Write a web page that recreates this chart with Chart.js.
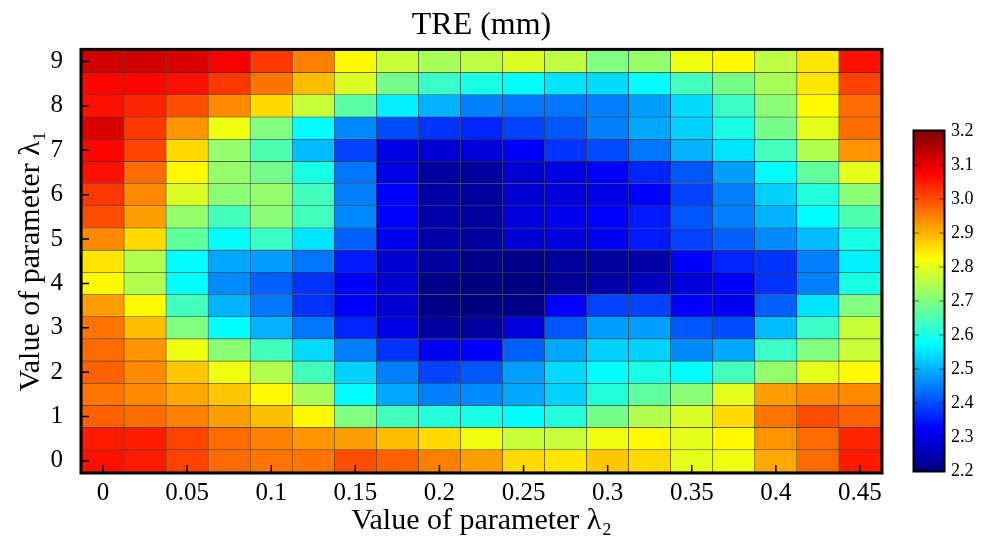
<!DOCTYPE html>
<html>
<head>
<meta charset="utf-8">
<script src="https://cdn.jsdelivr.net/npm/chart.js@4.4.1/dist/chart.umd.min.js"></script>
<style>
  body { margin: 0; background: #fff; }
  #wrap { position: relative; width: 987px; height: 543px; }
  canvas { position: absolute; top: 0; }
</style>
</head>
<body>
<div id="wrap">
  <canvas id="heat" width="987" height="543" style="left:0"></canvas>
  <canvas id="cbar" width="87" height="543" style="left:900px"></canvas>
</div>
<script>
// lambda2 along x, lambda1 along y (rows listed top to bottom)
const lambda2 = [0, 0.025, 0.05, 0.075, 0.1, 0.125, 0.15, 0.175, 0.2, 0.225,
                 0.25, 0.275, 0.3, 0.325, 0.35, 0.375, 0.4, 0.425, 0.45];
const lambda1 = [9, 8.5, 8, 7.5, 7, 6.5, 6, 5.5, 5, 4.5, 4, 3.5, 3, 2.5, 2, 1.5, 1, 0.5, 0];

// TRE (mm), one row per lambda1 value
const tre = [
  [3.12,3.12,3.11,3.08,3.02,2.95,2.83,2.77,2.74,2.76,2.79,2.76,2.70,2.72,2.81,2.83,2.76,2.85,3.06],
  [3.07,3.07,3.06,3.02,2.96,2.89,2.79,2.69,2.63,2.60,2.575,2.55,2.54,2.575,2.64,2.69,2.74,2.85,3.01],
  [3.06,3.04,3.00,2.94,2.86,2.77,2.66,2.56,2.50,2.45,2.44,2.44,2.45,2.48,2.54,2.63,2.71,2.83,2.97],
  [3.11,3.02,2.93,2.81,2.70,2.575,2.46,2.40,2.375,2.36,2.39,2.41,2.45,2.49,2.53,2.60,2.69,2.80,2.97],
  [3.07,3.01,2.86,2.72,2.65,2.51,2.39,2.30,2.28,2.29,2.325,2.375,2.40,2.44,2.50,2.55,2.64,2.75,2.93],
  [3.06,2.97,2.83,2.72,2.69,2.60,2.44,2.30,2.23,2.23,2.28,2.30,2.325,2.36,2.41,2.48,2.575,2.67,2.80],
  [3.02,2.94,2.79,2.71,2.72,2.64,2.45,2.325,2.24,2.23,2.28,2.29,2.30,2.325,2.39,2.45,2.53,2.61,2.71],
  [3.00,2.92,2.72,2.64,2.71,2.64,2.46,2.325,2.24,2.23,2.29,2.31,2.325,2.35,2.41,2.45,2.50,2.575,2.65],
  [2.94,2.86,2.67,2.575,2.63,2.55,2.42,2.31,2.24,2.23,2.28,2.29,2.31,2.35,2.39,2.42,2.46,2.51,2.60],
  [2.85,2.75,2.575,2.49,2.48,2.44,2.35,2.28,2.23,2.21,2.21,2.23,2.23,2.24,2.325,2.36,2.375,2.45,2.56],
  [2.83,2.75,2.575,2.46,2.42,2.375,2.325,2.28,2.21,2.20,2.20,2.22,2.24,2.26,2.29,2.325,2.375,2.45,2.60],
  [2.92,2.83,2.64,2.50,2.44,2.375,2.325,2.28,2.21,2.20,2.21,2.325,2.39,2.39,2.325,2.31,2.42,2.55,2.70],
  [2.96,2.89,2.70,2.575,2.50,2.44,2.36,2.30,2.23,2.23,2.29,2.41,2.48,2.48,2.41,2.40,2.51,2.63,2.77],
  [2.97,2.93,2.81,2.71,2.64,2.54,2.45,2.375,2.31,2.325,2.42,2.49,2.53,2.53,2.46,2.49,2.63,2.70,2.77],
  [2.98,2.94,2.88,2.81,2.75,2.64,2.53,2.45,2.39,2.41,2.48,2.54,2.575,2.60,2.575,2.64,2.72,2.80,2.83],
  [2.96,2.94,2.91,2.88,2.83,2.74,2.575,2.49,2.45,2.46,2.49,2.53,2.61,2.67,2.71,2.80,2.92,2.94,2.94],
  [2.98,2.97,2.95,2.92,2.89,2.83,2.70,2.64,2.61,2.60,2.575,2.61,2.69,2.75,2.79,2.86,2.96,3.00,2.98],
  [3.05,3.05,3.01,2.97,2.95,2.93,2.92,2.89,2.86,2.81,2.77,2.77,2.81,2.83,2.80,2.83,2.93,2.97,3.04],
  [3.06,3.05,3.01,2.97,2.96,2.96,3.00,2.98,2.95,2.92,2.86,2.85,2.88,2.86,2.80,2.81,2.91,2.97,3.05]
];

const xTicks = [0, 0.05, 0.1, 0.15, 0.2, 0.25, 0.3, 0.35, 0.4, 0.45];
const yTicks = [0, 1, 2, 3, 4, 5, 6, 7, 8, 9];
const cbTicks = [2.2, 2.3, 2.4, 2.5, 2.6, 2.7, 2.8, 2.9, 3.0, 3.1, 3.2];
const cMin = 2.2, cMax = 3.2;

Chart.defaults.color = '#000';
Chart.defaults.font.family = "'Liberation Serif', 'Times New Roman', serif";

// matlab style jet colormap
function jetFrac(f) {
  f = Math.min(1, Math.max(0, f));
  const c = k => Math.round(255 * Math.min(1, Math.max(0, 1.5 - Math.abs(4 * f - k))));
  return `rgb(${c(3)}, ${c(2)}, ${c(1)})`;
}
const jet = v => jetFrac((v - cMin) / (cMax - cMin));

// black box round the plot area + inward tick marks
const frame = {
  id: 'frame',
  afterDatasetsDraw(chart, args, opts) {
    const {ctx, chartArea: a} = chart;
    ctx.save();
    ctx.strokeStyle = opts.tickColor;
    ctx.lineWidth = 1.5;
    ctx.beginPath();
    Object.values(chart.scales).forEach(s => {
      if (!s.options.display) return;
      s.ticks.forEach(t => {
        const p = s.getPixelForValue(t.value);
        if (s.isHorizontal()) {
          ctx.moveTo(p, a.bottom); ctx.lineTo(p, a.bottom - opts.tick);
        } else {
          ctx.moveTo(a.left, p); ctx.lineTo(a.left + opts.tick, p);
          if (opts.both) { ctx.moveTo(a.right, p); ctx.lineTo(a.right - opts.tick, p); }
        }
      });
    });
    ctx.stroke();
    ctx.strokeStyle = '#000';
    ctx.lineWidth = opts.width;
    ctx.strokeRect(a.left - opts.width / 2 + 0.5, a.top - opts.width / 2 + 0.5,
                   a.right - a.left + opts.width - 1, a.bottom - a.top + opts.width - 1);
    ctx.restore();
  }
};

const half = (lambda1[0] - lambda1[1]) / 2;
const rows = lambda1.map((l1, r) => ({
  label: 'lambda1 = ' + l1,
  data: lambda2.map(l2 => ({x: l2, y: [l1 - half, l1 + half]})),
  backgroundColor: tre[r].map(jet),
  borderColor: 'rgba(25, 25, 25, 0.75)',
  borderWidth: 0.6,
  borderSkipped: false,
  grouped: false,
  barPercentage: 1,
  categoryPercentage: 1
}));

const stepX = (lambda2[1] - lambda2[0]) / 2;

new Chart(document.getElementById('heat'), {
  type: 'bar',
  data: { datasets: rows },
  plugins: [frame],
  options: {
    responsive: false,
    animation: false,
    layout: { padding: { right: 106 } },
    plugins: {
      legend: { display: false },
      tooltip: { enabled: false },
      title: {
        display: true, text: 'TRE (mm)', fullSize: false,
        font: { size: 32, weight: 'normal' },
        padding: { top: 6, bottom: 6 }
      },
      frame: { width: 3, tick: 7, tickColor: '#000' }
    },
    scales: {
      x: {
        type: 'linear',
        min: lambda2[0] - stepX,
        max: lambda2[lambda2.length - 1] + stepX,
        offset: false,
        grid: { display: false, drawTicks: false },
        border: { display: false },
        afterBuildTicks: s => { s.ticks = xTicks.map(v => ({ value: v })); },
        ticks: { font: { size: 25 }, padding: 6, maxRotation: 0, autoSkip: false, callback: v => String(v) },
        title: { display: true, text: 'Value of parameter λ₂', font: { size: 30 }, padding: { top: 4, bottom: 4 } },
        afterFit: s => { s.height = 71; }
      },
      y: {
        type: 'linear',
        min: lambda1[lambda1.length - 1] - half,
        max: lambda1[0] + half,
        grid: { display: false, drawTicks: false },
        border: { display: false },
        afterBuildTicks: s => { s.ticks = yTicks.map(v => ({ value: v })); },
        ticks: { font: { size: 25 }, padding: 19, autoSkip: false, callback: v => String(v) },
        title: { display: true, text: 'Value of parameter λ₁', font: { size: 30 }, padding: { top: 13, bottom: 0 } },
        afterFit: s => { s.width = 82; }
      }
    }
  }
});

// colour bar
function barGradient(c) {
  const ch = c.chart;
  const y = ch.scales.y;
  if (!ch.chartArea || !y) return '#000';
  const g = ch.ctx.createLinearGradient(0, y.getPixelForValue(cMin), 0, y.getPixelForValue(cMax));
  [0, 0.125, 0.375, 0.625, 0.875, 1].forEach(f => g.addColorStop(f, jetFrac(f)));
  return g;
}

new Chart(document.getElementById('cbar'), {
  type: 'bar',
  data: {
    labels: ['TRE'],
    datasets: [{ data: [[cMin, cMax]], backgroundColor: barGradient, borderWidth: 0, barPercentage: 1, categoryPercentage: 1 }]
  },
  plugins: [frame],
  options: {
    responsive: false,
    animation: false,
    layout: { padding: { left: 14, top: 131, bottom: 72 } },
    plugins: {
      legend: { display: false },
      tooltip: { enabled: false },
      frame: { width: 2, tick: 5, both: true, tickColor: 'rgba(0,0,0,0.35)' }
    },
    scales: {
      x: { display: false },
      y: {
        position: 'right',
        min: cMin, max: cMax,
        grid: { display: false, drawTicks: false },
        border: { display: false },
        afterBuildTicks: s => { s.ticks = cbTicks.map(v => ({ value: v })); },
        ticks: { font: { size: 18 }, padding: 7, autoSkip: false, callback: v => v.toFixed(1) },
        afterFit: s => { s.width = 43; }
      }
    }
  }
});
</script>
</body>
</html>
